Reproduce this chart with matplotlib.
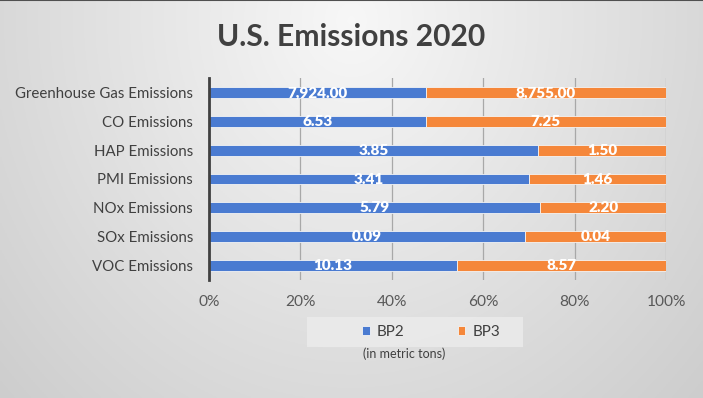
import numpy as np
import matplotlib.pyplot as plt
from matplotlib.patches import Rectangle
from matplotlib.ticker import PercentFormatter

plt.rcParams['font.family'] = ['Lato', 'DejaVu Sans']

categories = ['Greenhouse Gas Emissions', 'CO Emissions', 'HAP Emissions', 'PMI Emissions',
              'NOx Emissions', 'SOx Emissions', 'VOC Emissions']
bp2 = [7924.00, 6.53, 3.85, 3.41, 5.79, 0.09, 10.13]
bp3 = [8755.00, 7.25, 1.50, 1.46, 2.20, 0.04, 8.57]

W, H = 703, 398
fig = plt.figure(figsize=(W / 100, H / 100), dpi=100)

# gradient background
bg = fig.add_axes([0, 0, 1, 1], zorder=-10)
xx, yy = np.meshgrid(np.linspace(0, 1, 300), np.linspace(0, 1, 200))
r = np.sqrt(((xx - 0.5) / 0.5) ** 2 + (yy - 0.05) ** 2)
g = np.clip(0.97 - 0.12 * r, 0, 1)
bg.imshow(np.dstack([g, g, g]), aspect='auto', extent=[0, 1, 1, 0])
bg.axhline(0.0, color='#505050', lw=1.5)
bg.set_xlim(0, 1)
bg.set_ylim(1, 0)
bg.axis('off')

ax = fig.add_axes([209 / W, 1 - 280 / H, (666 - 209) / W, (280 - 78) / H])
ax.patch.set_alpha(0)

bp2 = np.array(bp2)
bp3 = np.array(bp3)
tot = bp2 + bp3
y = np.arange(len(categories))

b1 = ax.barh(y, bp2 / tot, height=0.38, color='#4a7bd1', edgecolor='#f4f4f4', lw=0.6, label='BP2', zorder=3)
b2 = ax.barh(y, bp3 / tot, left=bp2 / tot, height=0.38, color='#f5873a', edgecolor='#f4f4f4', lw=0.6, label='BP3', zorder=3)
ax.bar_label(b1, labels=[f'{v:,.2f}' for v in bp2], label_type='center', color='white',
             fontsize=11, fontweight='heavy')
ax.bar_label(b2, labels=[f'{v:,.2f}' for v in bp3], label_type='center', color='white',
             fontsize=11, fontweight='heavy')

ax.set_ylim(len(categories) - 0.5, -0.5)
ax.set_yticks(y)
ax.set_yticklabels(categories)
ax.set_xlim(0, 1)
ax.set_xticks(np.linspace(0, 1, 6))
ax.xaxis.set_major_formatter(PercentFormatter(1, decimals=0))
ax.tick_params(axis='y', length=0, pad=11.5, labelsize=10.8, labelcolor='#404040')
ax.tick_params(axis='x', length=0, pad=11, labelsize=11.2, labelcolor='#595959')
ax.grid(axis='x', color='#a8a8a8', lw=0.9, zorder=0)
for s in ['top', 'right', 'bottom']:
    ax.spines[s].set_visible(False)
ax.spines['left'].set_color('#404040')
ax.spines['left'].set_linewidth(2)
ax.spines['left'].set_zorder(4)

fig.text(351 / W, 1 - 46 / H, 'U.S. Emissions 2020', ha='center', va='baseline',
         fontsize=21.6, fontweight='bold', color='#404040')

# legend box
fig.patches.append(Rectangle((307 / W, 1 - 347 / H), (523 - 307) / W, 30 / H,
                             transform=fig.transFigure, facecolor='#ececec', alpha=0.8,
                             edgecolor='none', zorder=1))
fig.legend(handles=[b1, b2], loc='center left', bbox_to_anchor=(362 / W, 1 - 332 / H),
           ncol=2, frameon=False, fontsize=11, handlelength=0.5, handleheight=0.5,
           handletextpad=0.45, columnspacing=3.5, borderpad=0, borderaxespad=0,
           labelcolor='#404040')
fig.text(404 / W, 1 - 354 / H, '(in metric tons)', ha='center', va='center',
         fontsize=9, color='#404040')

fig.savefig('out.png', dpi=100)
